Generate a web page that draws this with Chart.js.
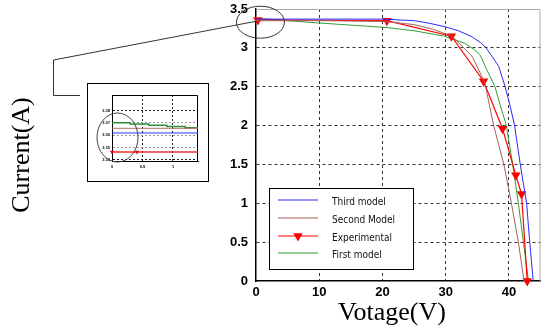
<!DOCTYPE html>
<html lang="en">
<head>
<meta charset="UTF-8">
<title>I-V curves: models vs experimental</title>
<script src="https://cdn.jsdelivr.net/npm/chart.js@4.4.1/dist/chart.umd.min.js"></script>
<style>
  html, body { margin: 0; padding: 0; background: #fff; }
  canvas { display: block; }
  #wrap { position: relative; width: 546px; height: 330px; }
  #inset {
    position: absolute; left: 87px; top: 83px; width: 122px; height: 99px;
    border: 1px solid #000; box-sizing: border-box; background: #fff;
  }
</style>
</head>
<body>
<div id="wrap">
  <canvas id="ivChart" width="546" height="330"></canvas>
  <div id="inset"><canvas id="zoomChart" width="120" height="97"></canvas></div>
</div>
<script>
// axis ticks
var xTicks = [0, 10, 20, 30, 40];
var yTicks = [0, 0.5, 1, 1.5, 2, 2.5, 3, 3.5];

// Third model (blue)
var thirdX = [0, 10, 20, 25, 27.2, 30, 32, 34, 35.5, 36.4, 37.5, 38.4, 39.4, 40.2, 40.9, 41.8, 42.4, 42.8, 43.3, 43.85];
var thirdY = [3.37, 3.37, 3.37, 3.35, 3.32, 3.27, 3.22, 3.15, 3.07, 3.0, 2.87, 2.76, 2.5, 2.25, 2.0, 1.5, 1.2, 1.0, 0.5, 0];

// Second model (brown)
var secondX = [0, 10, 20, 25, 28, 31, 34.2, 36.2, 36.9, 37.6, 39.2, 40.4, 41.5, 42.4];
var secondY = [3.35, 3.35, 3.34, 3.3, 3.24, 3.15, 2.89, 2.55, 2.27, 2.0, 1.5, 1.0, 0.5, 0];

// Experimental (red, triangles)
var expX = [0.3, 20.7, 30.9, 36.0, 39.0, 41.1, 42.0, 42.9];
var expY = [3.36, 3.35, 3.15, 2.57, 1.96, 1.36, 1.12, 0];

// First model (green)
var firstX = [0, 10, 20.9, 25, 29.8, 33, 34.5, 35.5, 36.5, 37.8, 38.6, 39.6, 40.6, 41.5, 42.3, 43.1];
var firstY = [3.38, 3.32, 3.26, 3.22, 3.15, 3.06, 2.98, 2.9, 2.72, 2.5, 2.27, 2.0, 1.5, 1.0, 0.5, 0];

// zoomed inset
var zoomXTicks = [0, 0.5, 1];
var zoomYTicks = [3.34, 3.35, 3.36, 3.37, 3.38];
var zoomGreenX = [0, 0.3, 0.6, 0.9, 1.2, 1.41];
var zoomGreenY = [3.370, 3.369, 3.368, 3.367, 3.366, 3.365];
var zoomBrownX = [0, 1.41];
var zoomBrownY = [3.3655, 3.3655];
var zoomBlueX = [0, 1.41];
var zoomBlueY = [3.3617, 3.3617];
var zoomRedX = [0, 0.41, 1.41];
var zoomRedY = [3.3463, 3.3463, 3.3463];

var blue = '#2a2aff', brown = '#a8625a', red = '#ff0000', green = '#2f9f36';

function pts(xs, ys) {
    return xs.map(function (x, i) { return { x: x, y: ys[i] }; });
}

function downTriangle(ctx, x, y, r, color) {
    ctx.save();
    ctx.fillStyle = color;
    ctx.beginPath();
    ctx.moveTo(x, y + r);
    ctx.lineTo(x - r * 0.866, y - r * 0.5);
    ctx.lineTo(x + r * 0.866, y - r * 0.5);
    ctx.closePath();
    ctx.fill();
    ctx.restore();
}

// keep label overhang from shrinking the plot box
function noPad(s) {
    s.paddingTop = 0; s.paddingBottom = 0; s.paddingLeft = 0; s.paddingRight = 0;
}

// top and right edges of the plot box
var framePlugin = {
    id: 'frame',
    beforeDatasetsDraw: function (chart, args, opts) {
        var a = chart.chartArea, ctx = chart.ctx;
        ctx.save();
        ctx.strokeStyle = opts.color || '#999';
        ctx.lineWidth = 1;
        ctx.beginPath();
        ctx.moveTo(a.left, a.top + 0.5);
        ctx.lineTo(a.right - 0.5, a.top + 0.5);
        ctx.lineTo(a.right - 0.5, a.bottom);
        ctx.stroke();
        ctx.restore();
    }
};

// legend box, axis titles, magnifier callout
var decorPlugin = {
    id: 'decor',
    afterDraw: function (chart) {
        var ctx = chart.ctx;
        var xs = chart.scales.x, ys = chart.scales.y;

        // legend
        ctx.save();
        ctx.fillStyle = '#fff';
        ctx.fillRect(269, 188, 144, 81);
        ctx.strokeStyle = '#000';
        ctx.lineWidth = 1;
        ctx.strokeRect(269.5, 188.5, 144, 81);
        ctx.font = '10px "DejaVu Sans Condensed", "Liberation Sans", sans-serif';
        ctx.textBaseline = 'middle';
        ctx.textAlign = 'left';
        var rows = [202, 220, 238, 255];
        chart.data.datasets.forEach(function (ds, i) {
            var y = rows[i];
            ctx.strokeStyle = ds.legendColor;
            ctx.lineWidth = 1.2;
            ctx.beginPath();
            ctx.moveTo(278, y - 2);
            ctx.lineTo(318, y - 2);
            ctx.stroke();
            if (ds.pointRadius) downTriangle(ctx, 298, y - 2, ds.pointRadius, ds.legendColor);
            ctx.fillStyle = '#111';
            ctx.fillText(ds.label, 332, y);
        });

        // axis titles
        ctx.fillStyle = '#000';
        ctx.font = '26px "Liberation Serif", "Times New Roman", serif';
        ctx.textAlign = 'center';
        ctx.fillText('Votage(V)', 392, 313);
        ctx.save();
        ctx.translate(22, 155);
        ctx.rotate(-Math.PI / 2);
        ctx.fillText('Current(A)', 0, 0);
        ctx.restore();

        // magnifier ellipse and leader line
        var cx = xs.getPixelForValue(0.7), cy = ys.getPixelForValue(3.33);
        ctx.strokeStyle = '#333';
        ctx.lineWidth = 1;
        ctx.beginPath();
        ctx.ellipse(cx, cy, 24, 16, 0, 0, Math.PI * 2);
        ctx.stroke();
        ctx.beginPath();
        ctx.moveTo(cx - 4, cy - 1);
        ctx.lineTo(53.5, 60);
        ctx.lineTo(53.5, 95.5);
        ctx.lineTo(80, 95.5);
        ctx.stroke();
        ctx.restore();
    }
};

var tickFont = { family: '"Liberation Sans", Arial, sans-serif', size: 13, weight: 'bold' };

new Chart(document.getElementById('ivChart'), {
    type: 'scatter',
    data: {
        datasets: [
            { label: 'Third model', data: pts(thirdX, thirdY), borderColor: blue, legendColor: blue, borderWidth: 1, pointRadius: 0, showLine: true },
            { label: 'Second Model', data: pts(secondX, secondY), borderColor: brown, legendColor: brown, borderWidth: 1, pointRadius: 0, showLine: true },
            { label: 'Experimental', data: pts(expX, expY), borderColor: red, legendColor: red, borderWidth: 1.2, showLine: true,
              pointStyle: 'triangle', pointRotation: 180, pointRadius: 5.5,
              pointBackgroundColor: red, pointBorderColor: red, pointBorderWidth: 0, clip: false },
            { label: 'First model', data: pts(firstX, firstY), borderColor: green, legendColor: green, borderWidth: 1, pointRadius: 0, showLine: true }
        ]
    },
    options: {
        responsive: false,
        animation: false,
        layout: { padding: { left: 0, right: 1, top: 9, bottom: 0 } },
        plugins: { legend: { display: false }, tooltip: { enabled: false }, frame: { color: '#aaa' } },
        scales: {
            x: {
                type: 'linear', min: 0, max: 45,
                afterBuildTicks: function (s) { s.ticks = xTicks.map(function (v) { return { value: v }; }); },
                afterFit: function (s) { s.height = 49; noPad(s); },
                grid: { color: function (c) { return c.tick && c.tick.value === 0 ? 'rgba(0,0,0,0)' : '#333'; }, lineWidth: 1, drawTicks: false },
                border: { display: true, color: '#000', width: 1.5, dash: [3, 3] },
                ticks: { color: '#000', font: tickFont, padding: 4, maxRotation: 0, callback: function (v) { return String(v); } }
            },
            y: {
                type: 'linear', min: 0, max: 3.5,
                afterBuildTicks: function (s) { s.ticks = yTicks.map(function (v) { return { value: v }; }); },
                afterFit: function (s) { s.width = 256; noPad(s); },
                grid: { color: function (c) { return c.tick && (c.tick.value === 0 || c.tick.value === 3.5) ? 'rgba(0,0,0,0)' : '#333'; }, lineWidth: 1, drawTicks: false },
                border: { display: true, color: '#000', width: 1.5, dash: [3, 3] },
                ticks: { color: '#000', font: tickFont, padding: 8, callback: function (v) { return String(v); } }
            }
        }
    },
    plugins: [framePlugin, decorPlugin]
});

// inset: zoom of the top-left corner
var insetCircle = {
    id: 'insetCircle',
    afterDraw: function (chart) {
        var ctx = chart.ctx;
        ctx.save();
        ctx.strokeStyle = '#444';
        ctx.lineWidth = 1;
        ctx.beginPath();
        ctx.ellipse(29.5, 53.5, 20.5, 24.5, 0, 0, Math.PI * 2);
        ctx.stroke();
        ctx.restore();
    }
};

var tinyFont = { family: '"Liberation Sans", Arial, sans-serif', size: 4, weight: 'bold' };

new Chart(document.getElementById('zoomChart'), {
    type: 'scatter',
    data: {
        datasets: [
            { data: pts(zoomBlueX, zoomBlueY), borderColor: '#3030ff', borderWidth: 1, pointRadius: 0, showLine: true },
            { data: pts(zoomBrownX, zoomBrownY), borderColor: '#b07060', borderWidth: 1, pointRadius: 0, showLine: true },
            { data: pts(zoomRedX, zoomRedY), borderColor: '#e83030', borderWidth: 1.5, showLine: true,
              pointStyle: 'triangle', pointRotation: 180, pointRadius: [2.5, 2.5, 0],
              pointBackgroundColor: '#ff0000', pointBorderWidth: 0, clip: false },
            { data: pts(zoomGreenX, zoomGreenY), borderColor: '#2f8f36', borderWidth: 1.5, pointRadius: 0, showLine: true, stepped: true }
        ]
    },
    options: {
        responsive: false,
        animation: false,
        layout: { padding: { left: 0, right: 10, top: 11, bottom: 0 } },
        plugins: { legend: { display: false }, tooltip: { enabled: false }, frame: { color: '#000' } },
        scales: {
            x: {
                type: 'linear', min: 0, max: 1.41,
                afterBuildTicks: function (s) { s.ticks = zoomXTicks.map(function (v) { return { value: v }; }); },
                afterFit: function (s) { s.height = 20; noPad(s); },
                grid: { color: function (c) { return c.tick && c.tick.value === 0 ? 'rgba(0,0,0,0)' : '#222'; }, lineWidth: 1, drawTicks: false },
                border: { display: true, color: '#000', width: 1, dash: [2, 2] },
                ticks: { color: '#000', font: tinyFont, padding: 3, maxRotation: 0, callback: function (v) { return String(v); } }
            },
            y: {
                type: 'linear', min: 3.339, max: 3.3925,
                afterBuildTicks: function (s) { s.ticks = zoomYTicks.map(function (v) { return { value: v }; }); },
                afterFit: function (s) { s.width = 24; noPad(s); },
                grid: { color: function (c) { return c.tick && (c.tick.value === 3.34 || c.tick.value === 3.38) ? '#222' : '#999'; }, lineWidth: 1, drawTicks: false },
                border: { display: true, color: '#000', width: 1, dash: [2, 2] },
                ticks: { color: '#000', font: tinyFont, padding: 2, callback: function (v) { return String(v); } }
            }
        }
    },
    plugins: [framePlugin, insetCircle]
});
</script>
</body>
</html>
